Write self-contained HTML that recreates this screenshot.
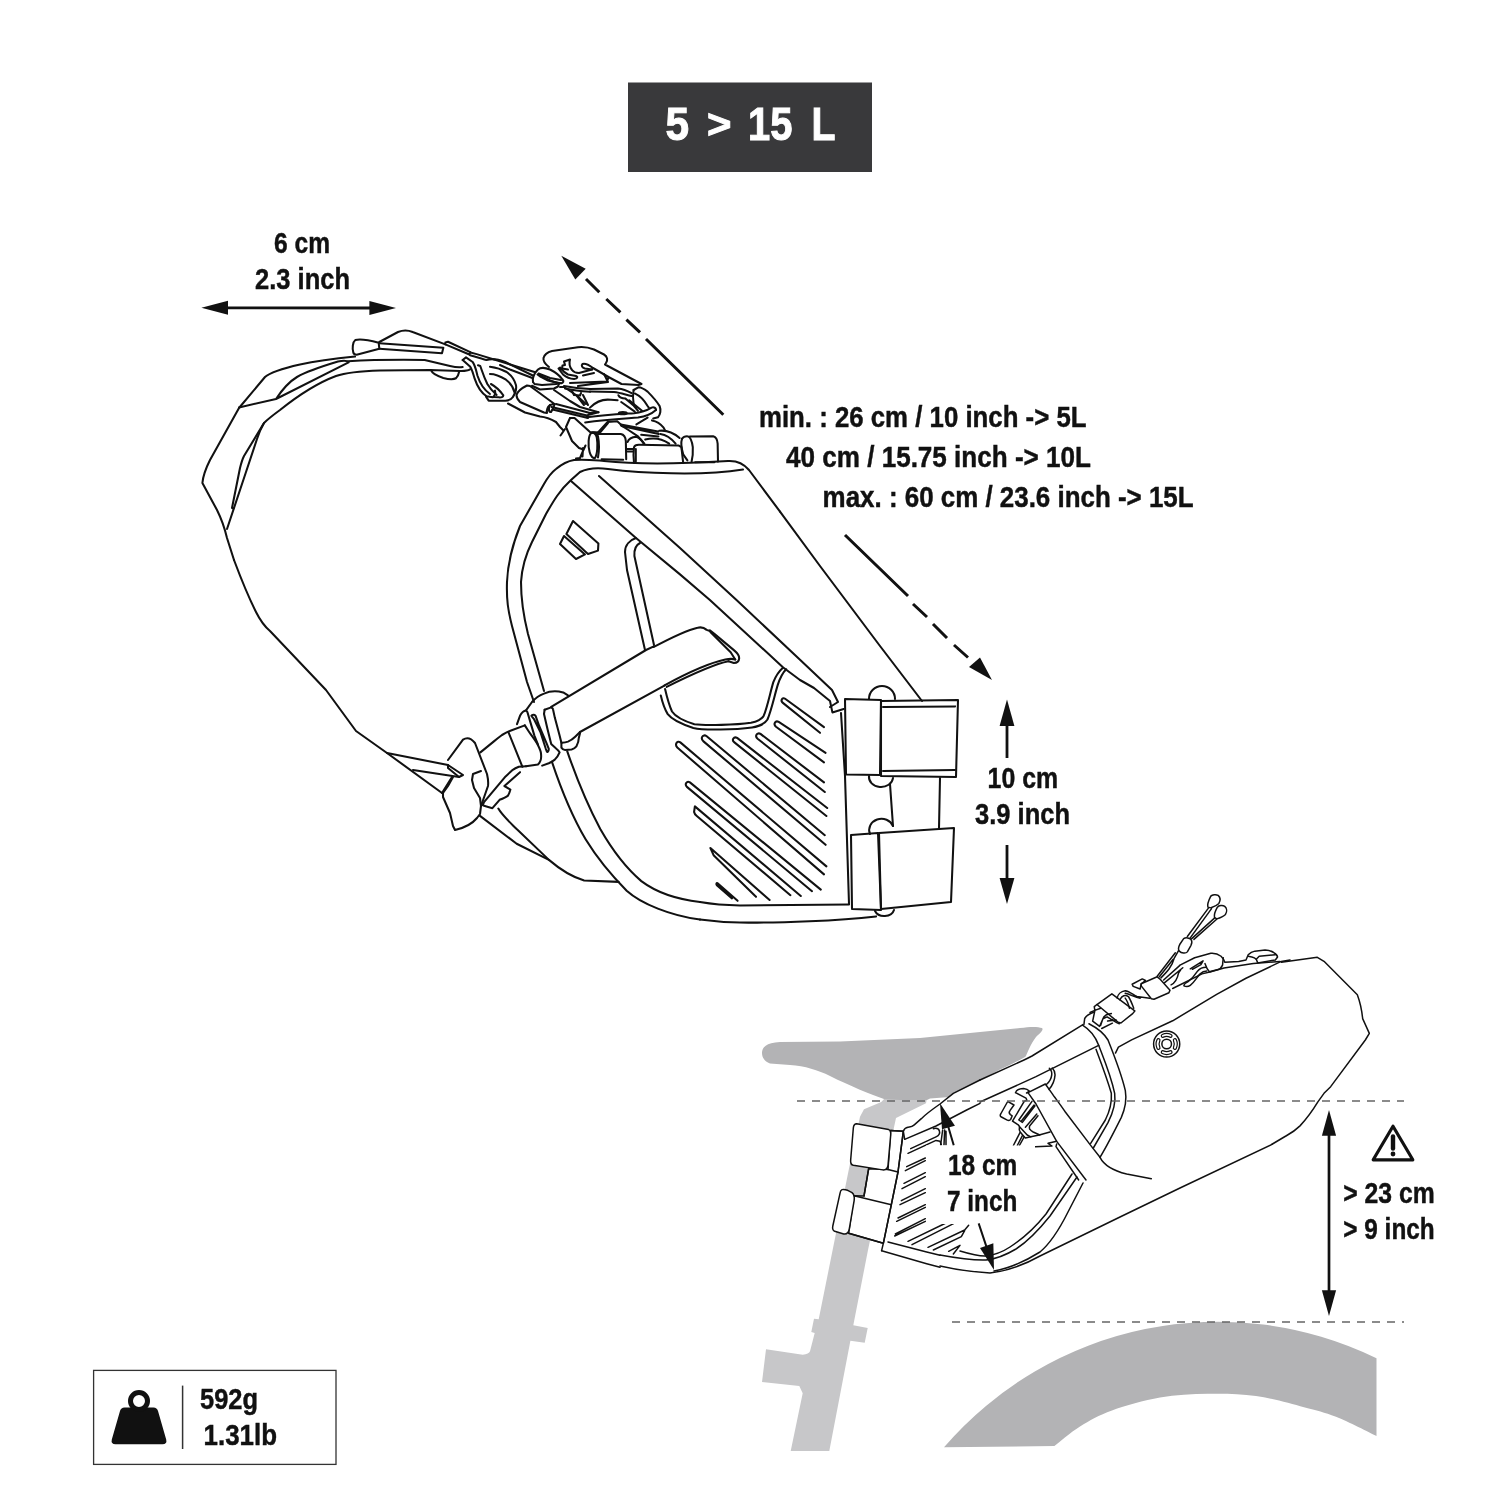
<!DOCTYPE html>
<html><head><meta charset="utf-8"><title>Saddle bag dimensions</title>
<style>
html,body{margin:0;padding:0;background:#fff;width:1500px;height:1500px;overflow:hidden}
svg{display:block;transform:translateZ(0);will-change:transform}
text{font-family:"Liberation Sans",sans-serif;font-weight:bold;fill:#111;stroke:#111;stroke-width:0.45}
.l path,.l line,.l circle,.l ellipse,.l polygon,.l polyline,.l rect{fill:none;stroke:#111;stroke-width:2.05;vector-effect:non-scaling-stroke;stroke-linecap:round;stroke-linejoin:round}
.s path,.s line,.s circle,.s ellipse,.s polygon,.s polyline,.s rect{fill:none;stroke:#111;stroke-width:1.5;vector-effect:non-scaling-stroke;stroke-linecap:round;stroke-linejoin:round}
.s .w,.l .w{fill:#fff}
.ar{stroke:#111;stroke-width:2.8;fill:none}
.ah{fill:#111;stroke:none}
</style></head><body>
<svg width="1500" height="1500" viewBox="0 0 1500 1500">
<rect x="0" y="0" width="1500" height="1500" fill="#fff"/>
<!-- TITLE -->
<rect x="628" y="82.5" width="244" height="89.5" fill="#39393b"/>
<g font-size="46" style="fill:#fff;stroke:#fff;stroke-width:0.9">
<text x="665.4" y="140.4" textLength="23.6" lengthAdjust="spacingAndGlyphs" style="fill:#fff;stroke:#fff;stroke-width:1">5</text>
<text x="707" y="138" font-size="40" textLength="24.4" lengthAdjust="spacingAndGlyphs" style="fill:#fff;stroke:#fff;stroke-width:1">&gt;</text>
<text x="748" y="140.4" textLength="44.4" lengthAdjust="spacingAndGlyphs" style="fill:#fff;stroke:#fff;stroke-width:1">15</text>
<text x="811.4" y="140.4" textLength="24" lengthAdjust="spacingAndGlyphs" style="fill:#fff;stroke:#fff;stroke-width:1">L</text>
</g>
<!-- TEXT -->
<g font-size="29.5">
<text x="274" y="253" textLength="56" lengthAdjust="spacingAndGlyphs">6 cm</text>
<text x="255" y="289" textLength="95" lengthAdjust="spacingAndGlyphs">2.3 inch</text>
<text x="759" y="427" textLength="327.5" lengthAdjust="spacingAndGlyphs">min. : 26 cm / 10 inch -&gt; 5L</text>
<text x="786" y="467" textLength="305" lengthAdjust="spacingAndGlyphs">40 cm / 15.75 inch -&gt; 10L</text>
<text x="822.6" y="507" textLength="371" lengthAdjust="spacingAndGlyphs">max. : 60 cm / 23.6 inch -&gt; 15L</text>
<text x="987.6" y="788.4" textLength="70.5" lengthAdjust="spacingAndGlyphs">10 cm</text>
<text x="975" y="824" textLength="95" lengthAdjust="spacingAndGlyphs">3.9 inch</text>
<text x="1343.3" y="1203.3" textLength="91.4" lengthAdjust="spacingAndGlyphs">&gt; 23 cm</text>
<text x="1343.3" y="1239.3" textLength="91.4" lengthAdjust="spacingAndGlyphs">&gt; 9 inch</text>
<text x="200" y="1409" textLength="58" lengthAdjust="spacingAndGlyphs">592g</text>
<text x="203.6" y="1445" textLength="73.4" lengthAdjust="spacingAndGlyphs">1.31lb</text>
</g>
<!-- WEIGHT BOX -->
<rect x="93.6" y="1370.4" width="242.4" height="94" fill="none" stroke="#333" stroke-width="1.3"/>
<line x1="182.6" y1="1385.6" x2="182.6" y2="1449" stroke="#333" stroke-width="1.5"/>
<path d="M124.5,1407.4 H153.5 Q157,1407.4 158,1411 L166.2,1439.5 Q167.3,1444.2 162.5,1444.2 H115.5 Q110.7,1444.2 111.8,1439.5 L120,1411 Q121,1407.4 124.5,1407.4 Z" fill="#111"/>
<circle cx="139" cy="1401" r="8.5" fill="none" stroke="#111" stroke-width="5"/>
<!-- ARROWS main -->
<g id="arrows">
<line class="ar" x1="225" y1="307.8" x2="372" y2="308" />
<polygon class="ah" points="201.4,307.7 228,300.7 228,314.7"/>
<polygon class="ah" points="396,308 369.4,301 369.4,315"/>
<line class="ar" x1="1007" y1="724" x2="1007" y2="758"/>
<polygon class="ah" points="1007,699.6 999.6,726 1014.4,726"/>
<line class="ar" x1="1007" y1="845" x2="1007" y2="880"/>
<polygon class="ah" points="1007,904 999.6,878 1014.4,878"/>
<!-- diagonal dashed -->
<path class="ar" d="M586,279 L599.3,292.3 M606.3,299 L620.4,312.3 M626.4,319.6 L640,332.4 M646,339 L723.3,414.7" style="stroke-width:3"/>
<polygon class="ah" points="561.3,255.7 585.7,268.7 575.3,279.6"/>
<path class="ar" d="M845,535 L908,596 M913,604 L927,617 M933,624 L947,638 M954,645 L968,657.5" style="stroke-width:3"/>
<polygon class="ah" points="992,680 969,667 980,657.6"/>
</g>
<!-- ===== SECOND FIGURE ===== -->
<g id="second">
<!-- fender -->
<path d="M944,1447.2 A362,362 0 0 1 1376.5,1358.2 L1376.5,1436 C1369.8,1432.8 1348.1,1421.6 1336.0,1416.8 C1323.9,1412.0 1317.3,1410.7 1304.0,1407.2 C1290.7,1403.7 1272.0,1398.2 1256.0,1396.0 C1240.0,1393.8 1224.0,1393.5 1208.0,1393.8 C1192.0,1394.1 1176.0,1394.8 1160.0,1397.6 C1144.0,1400.4 1125.3,1405.6 1112.0,1410.4 C1098.7,1415.2 1089.6,1420.5 1080.0,1426.4 C1070.4,1432.3 1058.7,1442.7 1054.4,1446.0 Z" fill="#b3b3b5"/>
<!-- seatpost -->
<path d="M881.3,1102 L864,1109.3 L860,1116.7 L848.7,1170 L836,1233.3 L818.7,1319.3 L814,1318.7 L811.3,1332 L814.7,1333 L810,1351.3 Q809,1354 802.7,1354.7 L766,1349.3 L762,1382 L799.3,1386 L802.7,1393.3 L790.7,1451 L829.3,1451 L850.4,1340.7 L864.7,1342.7 L867.7,1328 L853.3,1325.3 L868,1250 L894,1127.3 L896,1118 L926,1103.3 L927,1098 L885,1098 Z" fill="#c7c7c9"/>
<!-- saddle -->
<path d="M762,1053 C762,1047 766,1043 780,1042 L840,1041.6 L920,1038 L980,1032 L1020,1028 C1030,1026.5 1038,1026.5 1042,1028 C1044,1030 1040,1033 1036,1037 C1030,1045 1028,1052 1025,1058 L1000,1069.5 L950,1097 L930,1098.5 L927,1100 L900,1100 L884,1099 C870,1094 850,1086 830,1076 C818,1070 805,1066 790,1065 L770,1063.6 C764,1061 762,1057 762,1053 Z" fill="#b3b3b5"/>
<!-- white bag silhouette -->
<path d="M903.3,1131.3 L905,1127 L914,1125 L921.3,1118.7 L940,1104 L953.3,1093.3 L980,1080 L1000,1070.7 L1082.7,1025.3 L1090,1015 L1110,1000 L1140,985 L1175,960 L1215,950 L1262,945 L1280,957 L1317.3,957.3 L1324,961.3 L1357.3,994.7 L1362.7,1018.7 L1369.3,1033.3 L1330.7,1086.7 L1317.3,1104 L1301.3,1120 L1277.3,1141.3 L1240,1165.3 L1160,1200 L1053.3,1248 L1000,1272 L990,1273 L940,1266 L926.7,1263.7 L881.6,1250.7 L883.3,1243.3 L891.3,1204.7 L898,1172 Z" fill="#fff"/>
<g class="s">
<!-- S3 tile: straps + left bag (origin 780,1080 x7.5) -->
<g transform="translate(780,1080) scale(0.133333)">
<path class="w" d="M830,378 L925,385 L885,690 L835,935 L775,1225 L515,1150 L555,868 L630,870 L665,665 L810,672 Z"/>
<path class="w" d="M575,328 L815,372 C830,378 832,395 830,415 L810,640 C805,668 790,676 770,674 L550,640 C532,636 528,620 530,600 L550,360 C552,338 560,328 575,328 Z"/>
<path d="M830,378 L925,385 M810,672 L885,690 M665,665 L630,870"/>
<path class="w" d="M465,822 C480,818 510,825 540,845 C558,860 560,880 556,905 L520,1115 C515,1145 500,1158 478,1155 L410,1135 C395,1128 392,1115 396,1095 L450,850 C452,835 458,825 465,822 Z"/>
<path d="M555,868 L835,935 M775,1225 L515,1150"/>
<path d="M925,385 L885,690 L835,935 L775,1225 L762,1280"/>
<path d="M935,445 L925,385 C930,370 940,358 960,355 C980,352 995,350 1005,338 L1060,290 C1100,250 1150,215 1200,180 L1300,100 L1500,0"/>
<path d="M935,445 L1170,345 L1400,225 L1500,175"/>
<path d="M762,1280 L1100,1378 L1200,1405"/>
<path d="M810,1215 L1100,1290 L1200,1315"/>
<!-- hatches -->
<path d="M980,515 L1170,427 C1195,415 1200,395 1195,380 C1188,362 1170,360 1150,365 M960,550 L1170,453 L1200,460 L1210,485"/>
<path d="M950,650 L1090,585 M940,680 L1090,605 M930,775 L1090,695 M915,815 L1090,725 M910,905 L1090,815 M900,935 L1090,845 M885,1035 L1090,935 M875,1060 L1090,955 M865,1155 L1090,1040 M860,1170 L1090,1060"/>
<path d="M960,1210 L1260,1065 M990,1235 L1305,1075 M1110,1255 L1385,1125 L1415,1090 M1150,1275 L1360,1175 L1385,1130 M1265,1285 L1350,1240 L1300,1305"/>
<path d="M1205,485 L1220,375 M1230,485 L1235,375 M1245,485 L1245,385"/>
</g>
<!-- S1 tile: middle (origin 980,1040 x7.5) -->
<g transform="translate(980,1040) scale(0.133333)">
<path d="M0,300 L330,150 C360,136 375,128 390,120 L772,-116"/>
<path d="M0,465 L420,275 L890,40"/>
<path d="M817,-122 C880,-90 930,-50 960,0 C1000,100 1060,250 1090,380 C1100,440 1095,500 1060,580 C1020,660 960,780 900,880"/>
<path d="M769,-111 C820,-80 860,-40 890,40 C920,120 980,260 1010,400 C1020,470 1000,540 960,620 L850,810"/>
<path d="M870,70 C900,150 950,280 985,400 C990,470 975,530 940,600 L830,775"/>
<path d="M900,880 C930,940 1000,980 1100,1005 L1285,1040"/>
<path d="M360,395 L490,330 L540,400 C560,430 600,480 640,540 L830,790 L900,880"/>
<path d="M360,395 L420,480 L575,760 L795,1050"/>
<path d="M415,800 L540,795 L510,775 L575,760 M575,780 L570,800 L740,1050"/>
<path d="M498,334 C520,315 535,290 538,262 C540,245 535,225 520,212 M518,370 C545,340 560,300 563,262 C562,240 555,222 542,210"/>
<!-- clip -->
</g>
<!-- Tile W: clip (origin 990,1075 x16.667) -->
<g transform="translate(990,1075) scale(0.06)">
<path d="M425,295 C440,250 500,225 560,225 C610,230 640,250 660,270 L610,300 M425,295 L600,385 L615,420 L570,440"/>
<path d="M300,445 L400,500 L335,590 C315,615 315,640 340,660 L370,680 L345,740 C330,760 300,758 280,748 L190,700 C168,688 165,672 178,650 L290,450"/>
<path d="M570,440 L375,770 L470,830 L500,870 L620,1000 L680,1030 L820,1000 L1000,950"/>
<path d="M700,440 L480,750 L540,790 L750,515 M735,500 L520,770 M780,650 L590,870 M800,680 L660,850 C655,870 655,885 660,900 C680,925 700,940 720,950 L830,1000"/>
<path d="M500,960 L390,1175 M540,1010 L455,1175 M570,1030 L490,1175"/>
<path d="M490,870 C480,900 490,930 510,960 L570,1030 L590,1050 L680,1030"/>
</g>
<!-- S2 tile: bottom (origin 940,1140 x5) -->
<g transform="translate(940,1140) scale(0.2)">
<path d="M0,630 C80,648 170,660 250,665 C330,655 420,625 500,580 L900,385 L1200,240 L1660,22"/>
<path d="M270,655 C330,645 420,610 500,560 C560,510 600,440 640,360 L715,215"/>
<path d="M0,575 C80,590 170,602 230,600 C280,595 330,575 380,545 C450,500 510,430 550,380 L685,185"/>
<path d="M100,555 C150,570 200,582 230,580 C270,575 320,555 350,535 C420,490 490,420 530,370 L660,170"/>
</g>
<!-- T13 tile: overall right (origin 1000,880 x3.75) -->
<g transform="translate(1000,880) scale(0.266667)">
<path d="M1055,308 L1190,290 L1215,305 L1340,430 C1355,470 1358,500 1360,520 L1385,575 L1370,600 L1240,775 L1215,800 L1192,832 C1175,860 1150,895 1125,922 C1105,942 1090,950 1072,960 L1020,991"/>
<circle cx="625" cy="615" r="49"/>
<circle cx="625" cy="615" r="18"/>
<path d="M610.6,584.2 A34,34 0 0 1 639.4,584.2 M655.8,600.6 A34,34 0 0 1 655.8,629.4 M639.4,645.8 A34,34 0 0 1 610.6,645.8 M594.2,629.4 A34,34 0 0 1 594.2,600.6" style="stroke-width:4.2"/>
<path d="M610.6,584.2 A34,34 0 0 1 639.4,584.2 M655.8,600.6 A34,34 0 0 1 655.8,629.4 M639.4,645.8 A34,34 0 0 1 610.6,645.8 M594.2,629.4 A34,34 0 0 1 594.2,600.6" style="stroke-width:1.8;stroke:#fff"/>
</g>
<!-- Tile U: buckle cluster (origin 1090,940 x9.375) -->
<g transform="translate(1090,940) scale(0.1066667)">
<path d="M65,605 L205,505 L420,665 L400,690 L290,778 L265,772 Z"/>
<path d="M0,680 L45,660 L40,625 L65,605 M45,660 L100,640"/>
<path d="M25,760 L45,665 M25,760 L90,810 L130,720 L155,700 L200,690 M100,800 L120,740 L160,720 L250,775 L275,785 M165,760 L245,750 M110,830 L210,780"/>
<path d="M255,545 C260,510 290,480 330,475 C370,480 400,510 440,530 L560,545 M280,560 C300,520 330,510 360,530 C380,560 395,600 410,640 M330,545 C350,570 360,600 370,640 M330,500 C380,510 420,540 470,545"/>
<path d="M395,415 L490,365 L520,380 L480,410 L470,460 L405,435 Z"/>
<path d="M480,410 L630,345 L660,370 L750,470 L740,495 L600,555 L575,550 L480,430 Z"/>
<path d="M630,340 L800,120 M650,345 L780,180 M665,355 C720,300 770,250 790,170 L830,100 M690,375 L840,240 M700,400 L870,260 M760,420 C800,400 820,360 830,310 L850,280"/>
<path d="M880,430 C880,410 900,400 920,390 C960,360 990,320 1010,290 C1030,265 1060,255 1090,255 M880,430 C900,440 920,440 940,425 C980,395 1000,350 1030,320 C1050,300 1070,290 1095,290"/>
<path d="M940,270 L1060,195 L1040,230 L960,275"/>
</g>
<!-- T14 tile: top detail (origin 1070,880 x6.818) -->
<g transform="translate(1070,880) scale(0.146667)">
<path d="M310,1180 L330,1140 L420,1090 L700,960 L1000,780 L1200,670 L1440,555 L1500,545"/>
<path d="M960,625 L1050,600 L1250,570 L1430,555"/>
<path d="M95,985 L100,945 C110,925 130,912 165,900"/>
<!-- pulls -->
<path d="M960,110 C970,100 995,96 1010,105 C1025,118 1026,140 1015,160 C1000,175 980,182 960,190 L940,185 C936,170 942,145 960,110 Z"/>
<path d="M945,190 L800,385 M965,195 L820,395"/>
<path d="M1005,185 C1015,174 1040,170 1055,180 C1070,192 1072,215 1060,235 C1045,250 1025,258 1000,265 L985,255 C982,240 988,215 1005,185 Z"/>
<path d="M985,260 L830,400 M1000,268 L845,405"/>
<path d="M775,400 C790,390 815,395 825,405 C835,418 832,430 825,445 L800,490 C790,502 760,500 745,485 C735,470 740,455 748,440 Z"/>
<!-- hook -->
<path d="M750,580 L850,530 L960,500 C985,498 1010,505 1030,520 C1045,535 1052,548 1055,560 L1150,555 L1200,545 L1215,510 C1230,495 1245,488 1260,485 L1330,478 C1360,480 1380,488 1390,495 C1405,505 1415,515 1415,525 L1400,545 L1280,565 L1270,540 C1260,530 1250,527 1240,525 L1215,520"/>
<path d="M1270,540 L1290,520 L1400,510"/>
<path d="M1045,530 L1040,580 C1030,600 1020,608 1010,610 L950,625 C940,615 930,600 920,570"/>
<path d="M700,740 L900,640 L960,625"/>
</g>
</g>
<!-- dashed reference lines -->
<path d="M797,1101 H1404 M952,1322 H1404" stroke="#666" stroke-width="1.4" stroke-dasharray="8 7" fill="none"/>
<!-- white label box + text -->
<path d="M926,1145.5 H1035 V1200 L1010,1224 H926 Z" fill="#fff"/>
<g font-size="29.5">
<text x="948" y="1175.3" textLength="69.3" lengthAdjust="spacingAndGlyphs">18 cm</text>
<text x="947" y="1211.3" textLength="70.3" lengthAdjust="spacingAndGlyphs">7 inch</text>
</g>
<!-- small arrows -->
<g transform="translate(780,1080) scale(0.133333)">
<polygon class="ah" points="1200,175 1215,370 1312,343"/>
<line x1="1262" y1="350" x2="1303" y2="490" stroke="#111" stroke-width="15"/>
</g>
<g transform="translate(820,1090) scale(0.133333)">
<polygon class="ah" points="1305,1350 1200,1185 1300,1150"/>
<line x1="1190" y1="1000" x2="1248" y2="1175" stroke="#111" stroke-width="15"/>
</g>
<!-- tall arrow + warning -->
<line class="ar" x1="1329" y1="1132" x2="1329" y2="1292" style="stroke-width:2.7"/>
<polygon class="ah" points="1329,1110 1321.9,1135.7 1336.1,1135.7"/>
<polygon class="ah" points="1329,1316 1321.9,1290.3 1336.1,1290.3"/>
<path d="M1393,1126.2 L1412.8,1159.8 H1373.2 Z" fill="none" stroke="#111" stroke-width="3.2" stroke-linejoin="round"/>
<path d="M1393,1136.4 V1148.6" stroke="#111" stroke-width="4.4" stroke-linecap="round" fill="none"/>
<circle cx="1393" cy="1154" r="2.4" fill="#111"/>
</g>
<g class="l" id="mainbag">
<!-- T1: roll top left (origin 180,300 x5) -->
<g transform="translate(180,300) scale(0.2)">
<path d="M270,1300 L235,1190 C222,1135 200,1080 185,1050 L112,915 C115,880 135,830 150,800 L295,540 L425,385 C450,362 520,340 600,322 C700,302 800,291 875,283"/>
<path d="M295,537 L480,495 L843,312 C835,301 810,303 790,308 C700,335 630,360 585,385 C540,412 510,450 480,495"/>
<path d="M235,1145 L330,860 L385,695 C395,665 405,640 420,615 C440,595 470,572 500,550 C600,470 700,410 780,380 C830,362 900,355 1000,352 L1250,350 L1400,355"/>
<path d="M420,615 L320,780 C310,800 305,820 300,840 L260,1040 L267,1042"/>
</g>
<!-- T4: left lower edge (origin 180,560 x5) -->
<g transform="translate(180,560) scale(0.2)">
<path d="M270,0 C300,80 340,180 380,260 C400,300 420,330 450,355 L730,650 L880,855 L1035,965 L1310,1165"/>
<path d="M1035,965 L1340,1025 L1415,1075 L1395,1085 L1165,1050"/>
<path d="M1340,1025 L1340,1040 L1395,1085"/>
<path d="M1310,1165 L1360,1085"/>
</g>
<!-- T5: buckles left + harness left edge (origin 420,600 x5) -->
<g transform="translate(420,600) scale(0.2)">
<!-- slider -->
<!-- strap -->
<path d="M656,534 L1130,250 L1169,232"/>
<path d="M800,660 L1222,428"/>
<!-- male buckle -->
<!-- ladder lock -->
<path d="M140,800 L215,698 C235,685 255,690 275,715 L335,870 C342,900 342,915 340,930 L305,1030 L300,1070 L285,1090 C260,1120 220,1140 175,1150 L165,1130 L150,1065 L115,985 L115,965 L140,930 L165,885"/>
<path d="M305,855 L265,870 L260,900 L270,940 L300,990 L305,1030"/>
<!-- bag bottom lines -->
<!-- inner panel -->
</g>
<!-- T6: harness top-left + logo + panel (origin 480,430 x5) -->
<g transform="translate(480,430) scale(0.2)">
<path d="M270,1360 L235,1260 L160,980 C140,900 132,850 135,760 C138,680 160,580 200,480 L320,270 C340,235 360,210 380,195 C410,170 440,155 470,150 C520,145 560,150 620,155 C800,175 1000,170 1240,155 C1290,152 1320,170 1345,200 L1500,408"/>
<path d="M320,1305 L240,1020 C215,920 205,850 205,760 C210,680 230,620 260,560 L330,420 C370,350 400,300 455,250 L500,210 C540,190 590,188 640,195 C800,215 1100,232 1315,198"/>
<path d="M465,455 L592,567 L590,603 L540,620 L432,520 Z"/>
<path d="M420,530 L525,622 L480,645 L400,570 Z"/>
<path d="M780,540 C750,550 725,575 725,610 L735,700 L825,1100"/>
<path d="M800,565 C780,575 770,600 772,630 L870,1075"/>
</g>

<!-- TA: top of roll, tab (origin 330,310 x7.5) -->
<g transform="translate(330,310) scale(0.133333)">
<path d="M175,320 C165,290 170,240 190,225 C230,212 290,225 365,245 L370,290 L200,335 C185,335 178,330 175,320 Z"/>
<path d="M370,250 L850,283 L840,325 L370,290"/>
<path d="M370,240 L510,165 C545,150 590,152 620,165 L865,258"/>
<path d="M865,258 L865,243 L885,238 L1052,316 L1045,334 Z"/>
<path d="M135,385 C300,375 500,372 710,375 L900,420 C940,430 970,432 995,428"/>
<path d="M975,457 C1010,458 1035,455 1050,445"/>
<path d="M760,455 C765,470 790,490 850,510 C890,520 930,520 945,512 C960,500 965,480 968,465"/>
</g>
<!-- TB: hook (origin 460,320 x7.5) -->
<g transform="translate(460,320) scale(0.133333)">
<path d="M78,243 L125,256 L565,392"/>
<path d="M75,264 C120,275 170,295 198,300 C235,288 280,292 340,315 L550,418"/>
<path d="M20,300 L45,280 L95,315 C112,335 120,375 132,420 C148,470 175,520 225,555"/>
<path d="M20,300 L75,348 C92,372 98,405 110,440 C130,500 160,548 200,572 L245,580"/>
<path d="M135,340 L152,345 C165,380 178,425 205,480 C225,515 250,540 275,562"/>
<path d="M232,480 C265,498 300,530 325,565 C325,578 310,582 290,580 L250,577 C262,565 268,548 262,530"/>
<path d="M195,575 L215,605 L340,605 C365,603 385,597 395,580 C412,555 425,520 420,490 C410,450 385,415 350,390 C310,368 265,355 225,350"/>
<path d="M225,405 C260,405 300,420 345,448 C380,475 400,505 410,545"/>
</g>
<!-- T7: right side + diagonal (origin 680,430 x5) -->
<g transform="translate(680,430) scale(0.2)">
<path d="M500,408 L700,680 L1000,1080 L1210,1355"/>
</g>
<!-- T8: stripes + velcro (origin 660,660 x5) -->
<g transform="translate(660,660) scale(0.2)">
<path d="M200,1298 C270,1308 330,1312 400,1312 C600,1317 900,1302 1080,1282"/>
<path d="M200,1210 C270,1222 330,1226 400,1227 L945,1222"/>
<path d="M905,265 L925,580 L945,1220"/>
<!-- velcro top -->
<path d="M1045,195 A65,65 0 0 1 1175,195"/>
<path d="M1045,580 A60,50 0 0 0 1165,590"/>
<path d="M925,195 L1105,200 L1100,575 L930,572 Z"/>
<path d="M1105,205 L1490,200 L1480,585 L1105,580 Z"/>
<path d="M1115,235 L1475,232 M1115,555 L1475,550"/>
<path d="M1150,620 L1165,830 M1400,590 L1395,840"/>
<!-- velcro bottom -->
<path d="M1050,870 A60,55 0 0 1 1165,830"/>
<path d="M1075,1255 A50,40 0 0 0 1170,1250"/>
<path d="M955,875 L1090,865 L1105,1250 L960,1245 Z"/>
<path d="M1095,865 L1470,840 L1455,1210 L1105,1245 Z"/>
</g>
<!-- T16: harness bottom curves (origin 480,700 x6.818) -->
<g transform="translate(480,700) scale(0.146667)">
<path d="M490,420 C540,570 620,780 720,950 C800,1080 900,1200 1000,1300 C1100,1390 1300,1470 1500,1497"/>
<path d="M595,350 C650,510 730,710 820,880 C900,1020 1000,1150 1100,1235 C1200,1310 1350,1360 1500,1377"/>
<path d="M0,790 L250,980 L470,1090 C540,1150 620,1205 710,1230 L945,1240"/>
<path d="M125,740 C150,785 200,830 250,880 L470,1090"/>
</g>

<!-- TC: buckle complex (origin 500,335 x10) -->
<g transform="translate(500,335) scale(0.1)">
<path d="M0,300 L100,345 L330,432"/>
<!-- toggle -->
<path d="M330,470 C320,440 340,380 380,345 C410,320 450,325 500,345 C550,370 600,410 625,445 C640,460 635,475 615,482 C570,480 520,465 470,440 L375,395"/>
<path d="M385,385 L500,430 L610,450 M395,410 L480,455 L590,482"/>
<path d="M330,470 L345,490 L420,500 L560,490 L600,482"/>
<path d="M320,508 L400,545 L540,535 L580,515 L590,485"/>
<!-- cylinder 2 -->
<path d="M165,600 C170,580 200,540 270,505 L300,510 L545,690 L500,700 C475,720 465,750 470,780 L440,775 L200,670 C180,650 165,620 165,600 Z"/>
<path d="M500,700 C480,740 490,775 510,770 C530,745 545,700 545,690"/>
<!-- cord out of cyl 2 -->
<path d="M515,720 L870,805 L880,830 L525,745"/>
<path d="M560,690 L900,780 L985,772 L880,800"/>
<path d="M540,550 L700,660 L800,720 L985,772"/>
<path d="M600,520 L640,520 L760,600 L860,690"/>
<!-- big buckle plate -->
<path d="M490,320 C450,290 430,260 435,230 C445,190 480,170 520,160 L780,122 C840,115 890,125 940,145 L1040,195 C1075,215 1080,250 1060,280 L1050,295 L1415,490 L1385,500 L1215,490 L1085,420 L930,330 C890,300 850,280 825,290 C810,305 820,325 850,335 L920,345"/>
<path d="M640,265 L700,245 C690,280 695,320 720,350 C735,370 760,380 790,380 L920,345 M640,265 L650,300 L625,305 L620,335 L680,345"/>
<path d="M585,335 L600,325 C620,350 640,375 680,395 L760,410 C780,420 780,432 740,440 C700,438 660,420 630,395 Z"/>
<path d="M830,405 L940,380 M700,480 L1070,465 L1085,425 M1040,390 L1080,470 L780,510"/>
<!-- long cord band -->
<path d="M640,510 C720,525 800,535 900,540"/>
<path d="M650,535 C730,552 820,562 900,568"/>
<path d="M720,560 L740,600 L800,605 L810,580 M770,610 L840,700 M830,600 L880,700"/>
<!-- right loop -->
<!-- curved band -->
<!-- lower tube -->
<path d="M80,685 L250,775 L400,815 C450,820 500,835 560,870 L600,920 L630,950"/>
<path d="M650,940 L605,1005"/>
<path d="M700,830 L745,830 L900,970 L1000,975 L1080,880"/>
<path d="M700,830 L660,920 L720,1060 L790,1130 L820,1140 M855,1105 L830,1160 L800,1230 L760,1235 M830,1130 L825,1215"/>
</g>
<!-- T10: rollers (origin 580,380 x8.333) -->
<g transform="translate(580,380) scale(0.12)">
<path d="M90,445 C70,470 65,540 80,600 C90,640 110,655 125,650 C145,620 150,540 140,480 C135,450 110,430 90,445"/>
<path d="M100,440 C125,435 145,445 150,470 C160,520 158,600 150,645"/>
<path d="M150,450 L340,450 C370,455 380,480 382,510 L385,660"/>
<path d="M180,660 L360,665"/>
<path d="M385,575 L440,575 M395,595 L440,595"/>
<path d="M450,690 C445,650 445,600 450,560 C455,545 470,540 490,540 L820,545 L845,560 L860,690"/>
<path d="M465,575 L465,680"/>
<path d="M850,490 C840,520 845,570 860,620 L895,670"/>
<path d="M850,490 C860,475 880,468 900,470 C925,480 935,520 940,560 C942,600 938,650 930,680"/>
<path d="M915,470 L1110,468 C1135,475 1145,500 1147,530 L1150,680"/>
<path d="M960,685 L1120,685"/>
</g>

<!-- stripes (origin 660,680 x6.25) -->
<g transform="translate(660,680) scale(0.16)">
<path d="M1025,295 L782,117 C765,105 750,128 768,143 L1000,330"/>
<path d="M1035,455 L742,262 C722,250 705,275 725,292 L1025,515"/>
<path d="M1025,640 L628,337 C608,324 590,350 610,367 L1030,700"/>
<path d="M1045,800 L482,362 C462,350 445,375 465,390 L1040,850"/>
<path d="M1030,970 L290,350 C270,336 250,362 270,382 L1035,1030"/>
<path d="M1040,1165 L127,390 C108,376 90,402 108,422 L1025,1215"/>
<path d="M1005,1310 L187,640 C168,628 152,650 168,668 L950,1320"/>
<path d="M880,1350 L218,790 L213,825 C215,835 220,842 230,850 L815,1345"/>
<path d="M685,1375 L315,1050 L335,1095 L600,1355"/>
<path d="M485,1380 L360,1270 C352,1268 350,1275 355,1282 L450,1365"/>
</g>

<!-- Tile P: strap end + panel lower (origin 640,600 x9.375) -->
<g transform="translate(640,600) scale(0.1066667)">
<path d="M130,440 C300,350 450,280 540,260 C570,252 600,258 625,280 L655,290"/>
<path d="M655,285 L700,320 L880,470 C910,495 930,520 930,545 C928,575 905,590 880,590 L830,575"/>
<path d="M660,300 L850,490 L893,558"/>
<path d="M230,800 C450,680 650,590 800,558 C840,550 870,550 893,558"/>
<path d="M250,815 C500,690 700,600 830,575"/>
<path d="M195,895 C210,960 230,1020 260,1070 C290,1110 380,1160 500,1200 C600,1225 900,1215 1050,1195 C1120,1185 1170,1160 1195,1120 C1230,1040 1260,900 1290,800 C1310,740 1340,680 1370,650"/>
<path d="M235,835 C250,900 270,980 300,1045 C330,1090 400,1130 510,1165 C620,1180 900,1170 1040,1150 C1100,1140 1140,1120 1160,1085 C1195,1000 1220,870 1250,770 C1270,720 1300,670 1340,635"/>
</g>

<!-- diagonals in global coords -->
<path d="M571,481 L636,538 L680,574.4 L709.9,600 L782.9,667.2 L800,680 L814,688 L830,701 L832.4,712.4 L843.6,709"/>
<path d="M599,476 L680,548 L736.5,600 L800,659.7 L832,690 L838,702 L830,707"/>

<!-- Tile Q: slider + male buckle (origin 400,690 x8.333) -->
<g transform="translate(400,690) scale(0.12)">
<path d="M975,285 L1000,215 C1015,185 1030,172 1050,170 L1100,100 C1130,65 1160,45 1200,30 C1240,12 1300,5 1360,20 L1400,45"/>
<path d="M1050,170 L1062,185 L1090,280 L1120,380 L1150,455"/>
<path d="M1040,295 C1060,325 1075,350 1090,370 C1120,410 1140,440 1150,460 C1165,490 1175,510 1175,530 C1178,560 1175,580 1170,590 C1165,605 1160,612 1150,620 L1050,635"/>
<path d="M1095,215 C1100,205 1120,203 1130,215 L1160,300 L1220,440 L1240,490 C1240,510 1230,520 1225,515 L1215,490 L1170,350 L1115,240 Z"/>
<path d="M1205,165 L1260,145 C1270,148 1274,152 1275,160 L1290,230 L1330,380 L1345,440"/>
<path d="M1205,165 L1200,200 L1230,330 L1260,450 C1290,480 1320,500 1330,520 C1320,545 1305,565 1290,580 C1270,595 1255,603 1240,610 L1185,630"/>
<path d="M1345,440 L1345,480 C1355,495 1365,500 1375,500 L1430,495 C1450,490 1462,480 1470,470 C1485,440 1490,420 1490,400 L1500,360"/>
<path d="M1350,440 C1370,438 1385,435 1400,430 C1425,420 1445,405 1460,390 L1500,350"/>
<path d="M670,520 L780,430 C810,405 830,390 850,375 C880,358 900,348 920,340 L1040,295"/>
<path d="M905,355 L1020,640"/>
<path d="M1050,635 L990,640 C970,648 955,655 940,665 L880,720 L700,935 L690,960"/>
<path d="M1000,685 L870,800 L920,830 C915,850 910,865 900,880 C880,895 855,905 830,915 L770,985 L700,965"/>
</g>

<!-- Tile R: right loop + tube (origin 590,370 x12.5) -->
<g transform="translate(590,370) scale(0.08)">
<path d="M0,237 L350,230 C420,235 470,260 520,290"/>
<path d="M0,270 L300,275 C380,285 450,310 520,325"/>
<path d="M545,250 L610,215 C640,215 680,240 720,270 C780,330 840,400 870,450 C890,500 880,560 850,590 L790,605"/>
<path d="M545,250 C535,300 535,360 545,420 M565,295 C620,320 680,380 720,450 L735,470"/>
<path d="M-40,590 C200,560 400,550 550,540 C650,530 720,500 770,470 C800,460 825,475 825,500"/>
<path d="M-60,655 C200,620 400,610 600,595 C700,580 780,540 825,500"/>
<path d="M355,315 C370,345 390,355 440,355 L475,385 L540,440 L600,510 M390,400 L560,520 M490,380 L650,510"/>
<path d="M0,470 C60,410 150,370 220,370 L345,378"/>
<ellipse cx="410" cy="540" rx="50" ry="14" style="fill:#111"/>
<path d="M775,630 C830,640 880,670 920,720 L940,760 M580,680 L720,595"/>
<path d="M385,680 L850,770 M395,700 L860,800 M640,810 L855,830"/>
<path d="M100,780 L220,650 L340,640 L385,680 M385,690 L480,750 L600,830 L680,920"/>
<path d="M865,760 C950,750 1050,790 1120,850 M880,800 C950,810 1020,860 1070,920 M690,870 C800,840 900,860 990,920 M470,900 C480,870 520,840 580,835 C620,850 650,880 670,920"/>
</g>
</g>

</svg>
</body></html>
